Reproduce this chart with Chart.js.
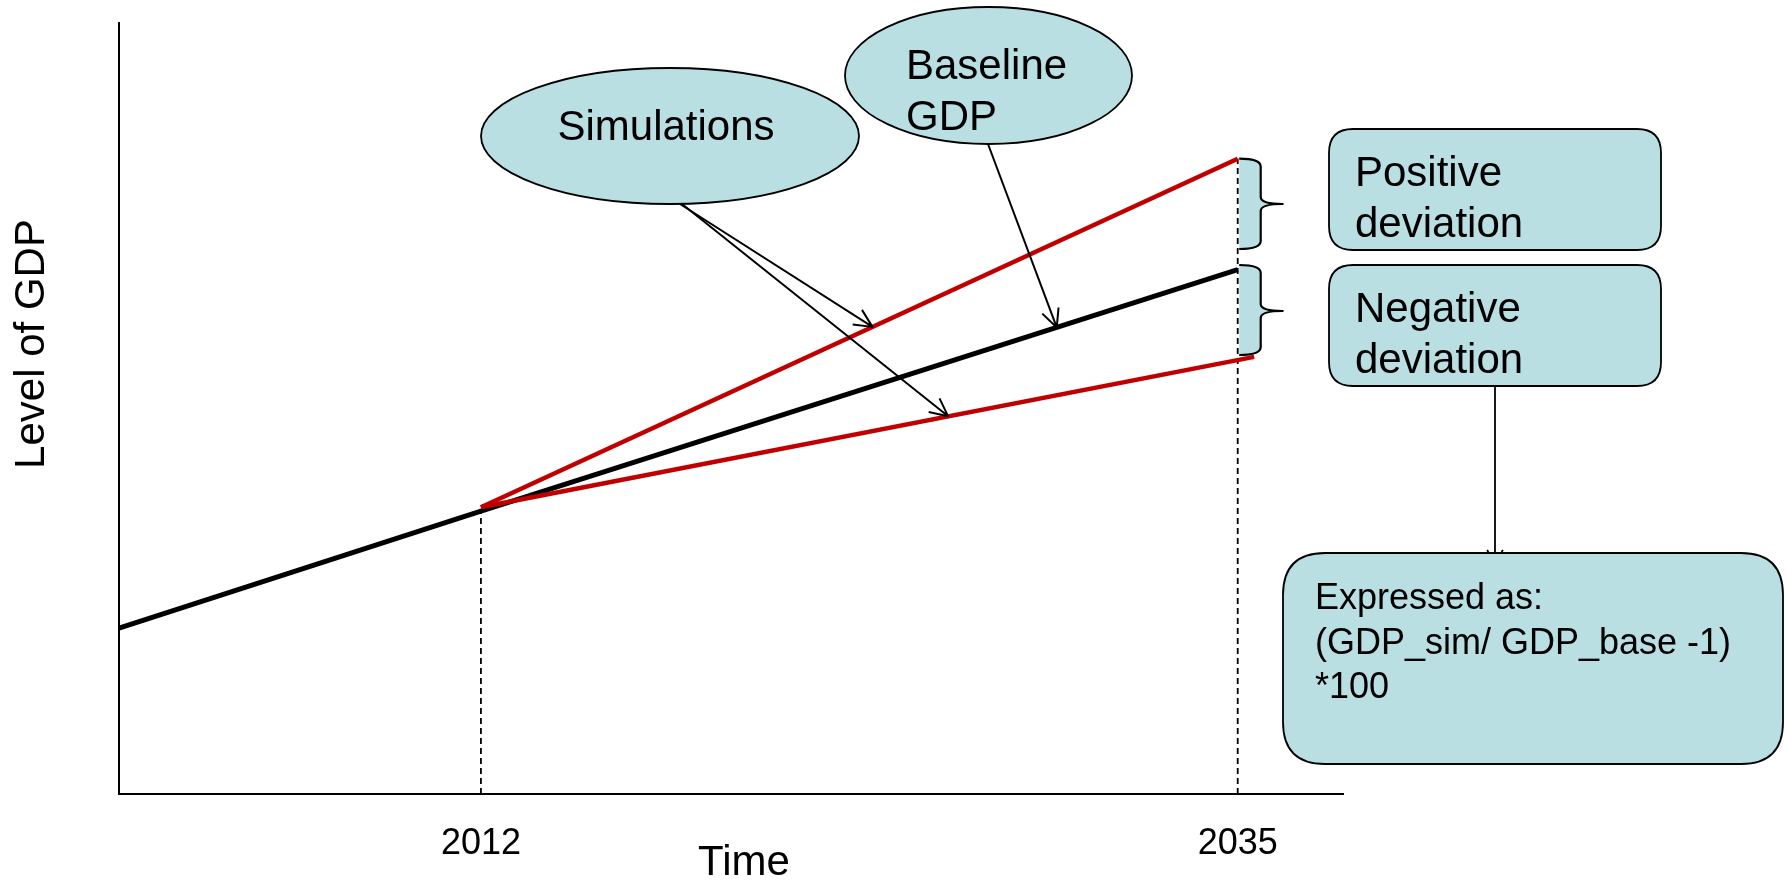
<!DOCTYPE html>
<html>
<head>
<meta charset="utf-8">
<title>Level of GDP</title>
<script src="https://cdn.jsdelivr.net/npm/chart.js@4.4.1/dist/chart.umd.min.js"></script>
<style>
  html, body { margin: 0; padding: 0; background: #fff; }
  #wrap { width: 1787px; height: 880px; position: relative; }
</style>
</head>
<body>
<div id="wrap"><canvas id="gdpChart"></canvas></div>
<script>
// GDP paths over time, level in arbitrary units (0 = time axis)
const baselineYears = [2001, 2012, 2035];
const baselineGdp = [21.5, 36.7, 68.0];
const highSimYears = [2012, 2035];
const highSimGdp = [37.2, 82.4];
const lowSimYears = [2012, 2035.5];
const lowSimGdp = [37.2, 56.7];
const tickYears = [2012, 2035];

// years where the callout arrows land on each path
const highArrowYear = 2023.9;
const lowArrowYear = 2026.2;
const baseArrowYear = 2029.5;

const FONT = '"Liberation Sans", Arial, sans-serif';
const FILL = '#b9dfe3';
const RED = '#c00000';

function toPoints(xs, ys) {
	return xs.map((x, i) => ({x: x, y: ys[i]}));
}

// linear interpolation along a path
function valueAt(xs, ys, x) {
	for (let i = 0; i < xs.length - 1; i++) {
		if (x >= xs[i] && x <= xs[i + 1]) {
			const t = (x - xs[i]) / (xs[i + 1] - xs[i]);
			return ys[i] + t * (ys[i + 1] - ys[i]);
		}
	}
	return ys[ys.length - 1];
}

function arrow(ctx, x1, y1, x2, y2, head) {
	const a = Math.atan2(y2 - y1, x2 - x1);
	ctx.beginPath();
	ctx.moveTo(x1, y1);
	ctx.lineTo(x2, y2);
	ctx.moveTo(x2 - head * Math.cos(a - 0.45), y2 - head * Math.sin(a - 0.45));
	ctx.lineTo(x2, y2);
	ctx.lineTo(x2 - head * Math.cos(a + 0.45), y2 - head * Math.sin(a + 0.45));
	ctx.stroke();
}

function roundBox(ctx, x, y, w, h, r) {
	ctx.beginPath();
	ctx.moveTo(x + r, y);
	ctx.lineTo(x + w - r, y);
	ctx.quadraticCurveTo(x + w, y, x + w, y + r);
	ctx.lineTo(x + w, y + h - r);
	ctx.quadraticCurveTo(x + w, y + h, x + w - r, y + h);
	ctx.lineTo(x + r, y + h);
	ctx.quadraticCurveTo(x, y + h, x, y + h - r);
	ctx.lineTo(x, y + r);
	ctx.quadraticCurveTo(x, y, x + r, y);
	ctx.closePath();
	ctx.fillStyle = FILL;
	ctx.fill();
	ctx.stroke();
}

function bubble(ctx, cx, cy, rx, ry) {
	ctx.beginPath();
	ctx.ellipse(cx, cy, rx, ry, 0, 0, Math.PI * 2);
	ctx.fillStyle = FILL;
	ctx.fill();
	ctx.stroke();
}

// curly brace opening to the left, filled between its ends
function brace(ctx, x0, x1, x2, yTop, yBot, yMid) {
	const p = new Path2D();
	p.moveTo(x0, yTop);
	p.quadraticCurveTo(x1, yTop, x1, yTop + 8);
	p.lineTo(x1, yMid - 7);
	p.quadraticCurveTo(x1, yMid, x2, yMid);
	p.quadraticCurveTo(x1, yMid, x1, yMid + 7);
	p.lineTo(x1, yBot - 8);
	p.quadraticCurveTo(x1, yBot, x0, yBot);
	const f = new Path2D(p);
	f.closePath();
	ctx.fillStyle = FILL;
	ctx.fill(f);
	ctx.lineWidth = 2.2;
	ctx.stroke(p);
}

const calloutPlugin = {
	id: 'callouts',
	afterDatasetsDraw(chart) {
		const ctx = chart.ctx;
		const xs = chart.scales.x;
		const ys = chart.scales.y;
		const px = v => xs.getPixelForValue(v);
		const py = v => ys.getPixelForValue(v);
		ctx.save();
		ctx.strokeStyle = '#000';
		ctx.lineJoin = 'round';

		// braces at the end year
		const xEnd = px(2035);
		brace(ctx, xEnd + 1.5, xEnd + 23, xEnd + 45, py(highSimGdp[1]), 249, 204);
		brace(ctx, xEnd + 1.5, xEnd + 23, xEnd + 45, 265, 355, 311);

		// connector to the formula box
		ctx.lineWidth = 1.8;
		arrow(ctx, 1495, 386, 1495, 566, 18);

		ctx.lineWidth = 1.8;
		roundBox(ctx, 1329, 129, 332, 121, 24);
		roundBox(ctx, 1329, 265, 332, 121, 24);
		roundBox(ctx, 1283, 553, 500, 211, 42);

		// arrows from the bubbles onto the paths
		ctx.lineWidth = 2;
		arrow(ctx, 680, 204, px(highArrowYear), py(valueAt(highSimYears, highSimGdp, highArrowYear)), 20);
		arrow(ctx, 682, 204, px(lowArrowYear), py(valueAt(lowSimYears, lowSimGdp, lowArrowYear)), 20);
		arrow(ctx, 988, 144, px(baseArrowYear), py(valueAt(baselineYears, baselineGdp, baseArrowYear)), 20);

		ctx.lineWidth = 1.8;
		bubble(ctx, 670, 136, 189, 68);
		bubble(ctx, 988.5, 75.5, 143.5, 68.5);

		// texts
		ctx.fillStyle = '#000';
		ctx.textBaseline = 'alphabetic';
		ctx.font = '42px ' + FONT;
		ctx.textAlign = 'center';
		ctx.fillText('Simulations', 666, 140);
		ctx.textAlign = 'left';
		ctx.fillText('Baseline', 906, 79);
		ctx.fillText('GDP', 906, 130);
		ctx.fillText('Positive', 1355, 186);
		ctx.fillText('deviation', 1355, 237);
		ctx.fillText('Negative', 1355, 322);
		ctx.fillText('deviation', 1355, 373);
		ctx.font = '36px ' + FONT;
		ctx.fillText('Expressed as:', 1315, 609);
		ctx.fillText('(GDP_sim/ GDP_base -1)', 1315, 654);
		ctx.fillText('*100', 1315, 698);

		// axis titles
		ctx.font = '42px ' + FONT;
		ctx.textAlign = 'center';
		ctx.fillText('Time', 744, 875);
		ctx.translate(44, 344);
		ctx.rotate(-Math.PI / 2);
		ctx.fillText('Level of GDP', 0, 0);
		ctx.restore();
	}
};

new Chart(document.getElementById('gdpChart'), {
	type: 'line',
	data: {
		datasets: [
			{data: toPoints(highSimYears, highSimGdp), borderColor: RED, borderWidth: 4.5},
			{data: toPoints(lowSimYears, lowSimGdp), borderColor: RED, borderWidth: 4.5},
			{data: toPoints(baselineYears, baselineGdp), borderColor: '#000', borderWidth: 5},
			{data: [{x: tickYears[0], y: 0}, {x: tickYears[0], y: baselineGdp[1]}], borderColor: '#000', borderWidth: 1.8, borderDash: [6, 4]},
			{data: [{x: tickYears[1], y: 0}, {x: tickYears[1], y: highSimGdp[1]}], borderColor: '#000', borderWidth: 1.8, borderDash: [6, 4]}
		]
	},
	options: {
		responsive: true,
		maintainAspectRatio: false,
		animation: false,
		elements: {
			point: {radius: 0, hoverRadius: 0},
			line: {tension: 0, fill: false}
		},
		layout: {padding: {left: 119, right: 444, top: 23, bottom: 17}},
		plugins: {
			legend: {display: false},
			tooltip: {enabled: false}
		},
		scales: {
			x: {
				type: 'linear',
				min: 2001,
				max: 2038.2,
				grid: {display: false, drawTicks: false},
				border: {color: '#000', width: 2},
				afterBuildTicks: (scale) => {
					scale.ticks = tickYears.map(v => ({value: v}));
				},
				// the label band is padding + one text line
				afterFit: (scale) => {
					scale.height = 69;
				},
				ticks: {
					padding: 28,
					color: '#000',
					autoSkip: false,
					maxRotation: 0,
					font: {family: FONT, size: 36},
					callback: v => String(v)
				}
			},
			y: {
				min: 0,
				max: 100,
				grid: {display: false, drawTicks: false},
				border: {color: '#000', width: 2},
				ticks: {display: false}
			}
		}
	},
	plugins: [calloutPlugin]
});
</script>
</body>
</html>
